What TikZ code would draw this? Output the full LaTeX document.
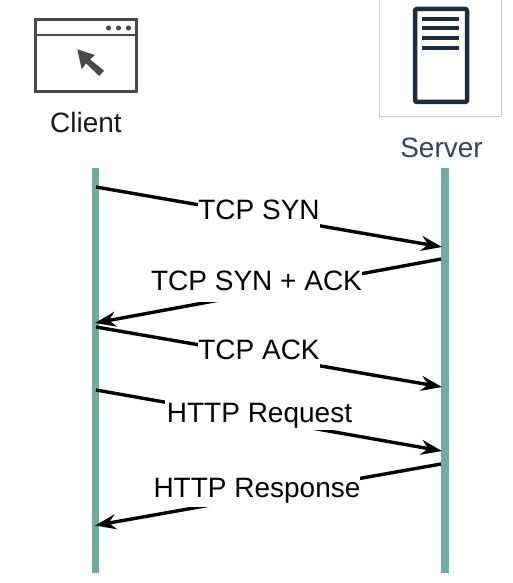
\documentclass[tikz,border=0pt]{standalone}
\usepackage{fontspec}
\setmainfont{Liberation Sans}
\usetikzlibrary{arrows.meta}
\definecolor{lifeteal}{HTML}{6BAE9F}
\definecolor{navy}{HTML}{1C2B40}
\definecolor{slatetext}{HTML}{34465A}
\definecolor{icongrey}{HTML}{4A4A4A}
\tikzset{
  lifeline/.style={draw=lifeteal,line width=7.5pt},
  msg/.style={draw=black,line width=3.4pt,-{Stealth[length=21pt,width=15pt,inset=7pt]}},
  msglabel/.style={fill=white,text=black,inner xsep=0pt,inner ysep=9.5pt,text height=19pt,text depth=0pt,font=\fontsize{28}{30}\selectfont},
  actor/.style={inner sep=0pt,text height=20pt,text depth=0pt,font=\fontsize{28}{30}\selectfont},
  winline/.style={draw=icongrey,line width=2.6pt},
  srvline/.style={draw=navy,line width=4pt}
}
\begin{document}
\begin{tikzpicture}[x=1pt,y=-1pt]
\useasboundingbox (0,0) rectangle (512,583);
% client icon
\draw[winline] (35.5,19.5) rectangle (136.5,91.5);
\draw[winline] (35.5,35) -- (136.5,35);
\foreach \cx in {108.5,118.5,128.5} \fill[icongrey] (\cx,28) circle (2.6);
\fill[icongrey] (77.3,49.3) -- (95,55) -- (90,59.3) -- (104,70.7) -- (99.3,76) -- (86,63.3) -- (81.7,69.3) -- cycle;
\node[actor,text=black!90] (client) at (86,122) {Client};
% server icon
\draw[draw=black!20,line width=1pt] (379.5,0) -- (379.5,116.5) -- (501.5,116.5) -- (501.5,0);
\draw[draw=navy,line width=4.5pt,rounded corners=2pt] (415,9) rectangle (467,102);
\foreach \ly in {18.7,28.3,38,47.7} \draw[srvline] (422,\ly) -- (459,\ly);
\node[actor,text=slatetext] (server) at (441.5,147) {Server};
% lifelines
\coordinate (ct) at (95.5,167.5);
\coordinate (cb) at (95.5,573);
\coordinate (st) at (445,167.5);
\coordinate (sb) at (445,573);
\draw[lifeline] (ct) -- (cb);
\draw[lifeline] (st) -- (sb);
% message end points
\coordinate (a1) at (96,187);   \coordinate (b1) at (442,247);
\coordinate (a2) at (441,259);  \coordinate (b2) at (95,323);
\coordinate (a3) at (96,327);   \coordinate (b3) at (442,387);
\coordinate (a4) at (96,390);   \coordinate (b4) at (442,451);
\coordinate (a5) at (441,464);  \coordinate (b5) at (95,525.5);
\draw[msg] (a1) -- (b1);
\draw[msg] (a2) -- (b2);
\draw[msg] (a3) -- (b3);
\draw[msg] (a4) -- (b4);
\draw[msg] (a5) -- (b5);
% labels
\node[msglabel] (l1) at (259,209.5) {TCP SYN};
\node[msglabel,inner ysep=11pt] (l2) at (256.5,281) {TCP SYN + ACK};
\node[msglabel] (l3) at (259,350) {TCP ACK};
\node[msglabel,inner ysep=7.5pt,inner xsep=2pt] (l4) at (259.5,413) {HTTP Request};
\node[msglabel] (l5) at (257,488) {HTTP Response};
\end{tikzpicture}
\end{document}
